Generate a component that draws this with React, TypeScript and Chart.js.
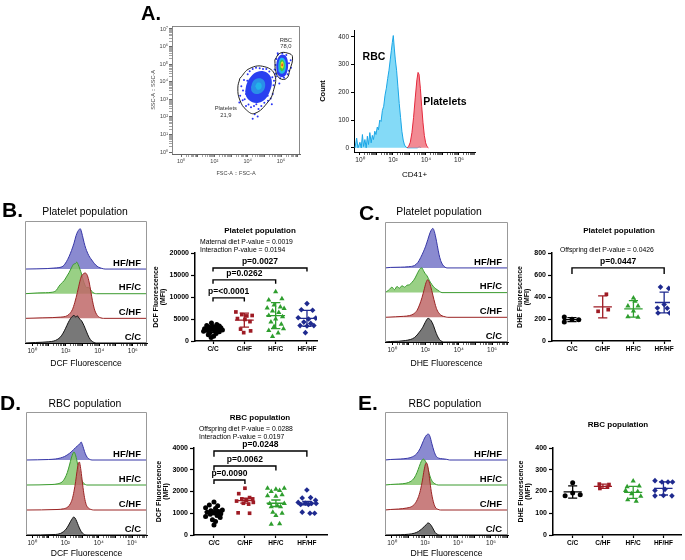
import React, { useEffect, useRef } from 'react';
import { Chart, registerables } from 'chart.js';

Chart.register(...registerables);

const FONT = "'Liberation Sans', Arial, Helvetica, sans-serif";
Chart.defaults.font.family = FONT;
Chart.defaults.color = '#000';

const SUP = ['⁰', '¹', '²', '³', '⁴', '⁵', '⁶', '⁷', '⁸', '⁹'];

// ================= Panel A, left: FSC-A vs SSC-A (log10 units) =================
const fscRange = [-0.54, 7.14];
const sscRange = [-0.11, 7.17];
const plateletGate = [[3.53, 4.19], [4.13, 4.76], [5.03, 4.85], [5.63, 4.38], [5.53, 3.43], [5.23, 2.86], [4.43, 2.2], [3.93, 2.39], [3.53, 2.96], [3.41, 3.64], [3.53, 4.19]];
const rbcGate = [[5.63, 5.24], [5.93, 5.62], [6.43, 5.62], [6.69, 5.42], [6.53, 4.67], [6.33, 4.19], [5.93, 4.19], [5.69, 4.57], [5.63, 5.24]];
const plateletOuter = [[3.85, 3.45], [3.95, 3.9], [4.2, 4.3], [4.55, 4.55], [4.95, 4.6], [5.3, 4.4], [5.45, 4.0], [5.35, 3.5], [5.05, 3.0], [4.65, 2.8], [4.25, 2.85], [3.95, 3.1], [3.85, 3.45]];
const plateletCore = [[4.2, 3.7], [4.35, 4.05], [4.65, 4.2], [4.95, 4.1], [5.05, 3.75], [4.85, 3.4], [4.5, 3.3], [4.25, 3.45], [4.2, 3.7]];
const plateletCentre = [[4.45, 3.75], [4.6, 3.95], [4.8, 3.9], [4.82, 3.65], [4.6, 3.55], [4.45, 3.75]];
const rbcOuter = [[5.75, 4.45], [5.72, 4.95], [5.82, 5.35], [6.05, 5.55], [6.3, 5.45], [6.42, 5.05], [6.38, 4.6], [6.2, 4.3], [5.95, 4.28], [5.75, 4.45]];
const rbcMid = [[5.85, 4.6], [5.85, 5.05], [5.98, 5.35], [6.2, 5.3], [6.3, 4.95], [6.22, 4.55], [6.02, 4.45], [5.85, 4.6]];
const rbcGreen = [[5.92, 4.72], [5.93, 5.1], [6.05, 5.25], [6.2, 5.1], [6.2, 4.75], [6.05, 4.6], [5.92, 4.72]];
const rbcYellow = [[5.98, 4.82], [6.0, 5.08], [6.1, 5.15], [6.16, 4.95], [6.1, 4.75], [5.98, 4.82]];
const rbcRed = [[6.02, 4.9], [6.05, 5.05], [6.1, 5.02], [6.1, 4.88], [6.02, 4.9]];
const sparseEvents = [[3.55, 3.2], [3.62, 3.75], [3.7, 2.95], [3.78, 4.1], [3.82, 3.0], [3.9, 2.62], [4.0, 4.42], [4.05, 2.7], [4.12, 4.6], [4.2, 2.55], [4.3, 4.72], [4.38, 2.62], [4.5, 4.8], [4.52, 2.72], [4.65, 2.45], [4.72, 4.76], [4.82, 2.62], [4.92, 4.72], [5.0, 2.8], [5.12, 4.72], [5.22, 2.92], [5.3, 4.58], [5.38, 3.05], [5.48, 4.25], [5.5, 3.3], [5.55, 3.8], [5.58, 4.05], [5.45, 2.72], [4.42, 2.15], [3.9, 3.3], [3.72, 3.5], [5.66, 4.45], [4.6, 2.02], [3.5, 2.82], [4.1, 3.6], [5.2, 3.2], [4.85, 4.5], [3.98, 4.05], [5.62, 4.7], [5.68, 4.95], [5.72, 5.3], [5.82, 5.55], [6.08, 5.62], [6.32, 5.52], [6.48, 5.05], [6.48, 4.62], [6.4, 4.42], [6.18, 4.22], [5.95, 4.2], [5.7, 4.3], [6.58, 5.22], [5.8, 5.62], [4.3, 1.9], [5.9, 3.9], [6.6, 4.8]];
const gateLabels = [
  { x: 2.69, y: 2.49, text: 'Platelets' },
  { x: 2.69, y: 2.1, text: '21,9' },
  { x: 6.29, y: 6.37, text: 'RBC' },
  { x: 6.29, y: 5.99, text: '78,0' },
];

// ================= Panel A, right: CD41+ histogram =================
const cd41Range = [-0.36, 6.97];
const countTicks = [0, 100, 200, 300, 400];
const rbcCD41 = [[-0.3, 0], [-0.2, 35], [-0.12, 0], [0.0, 20], [0.08, 0], [0.15, 48], [0.22, 5], [0.3, 30], [0.38, 0], [0.45, 42], [0.52, 12], [0.6, 55], [0.68, 18], [0.75, 45], [0.82, 30], [0.9, 60], [0.97, 48], [1.05, 75], [1.12, 65], [1.2, 100], [1.28, 95], [1.36, 135], [1.44, 150], [1.52, 190], [1.6, 215], [1.68, 250], [1.76, 280], [1.84, 320], [1.9, 350], [1.96, 380], [2.02, 405], [2.08, 360], [2.14, 320], [2.22, 280], [2.3, 220], [2.38, 160], [2.46, 110], [2.54, 60], [2.62, 28], [2.7, 10], [2.8, 2], [2.9, 0], [3.5, 0], [3.6, 6], [3.7, 0]];
const plateletCD41 = [[2.85, 0], [2.95, 5], [3.05, 20], [3.15, 55], [3.25, 110], [3.35, 180], [3.45, 245], [3.52, 272], [3.58, 265], [3.66, 215], [3.74, 150], [3.82, 90], [3.9, 45], [3.98, 18], [4.06, 5], [4.15, 0]];
const cd41Labels = [
  { x: 0.85, y: 327, text: 'RBC' },
  { x: 5.15, y: 164, text: 'Platelets' },
];

// ================= Group styling =================
const categories = ['C/C', 'C/HF', 'HF/C', 'HF/HF'];
const groupColors = ['#000000', '#9e1b24', '#2e9e2e', '#1f2a8f'];
const groupShapes = ['circle', 'rect', 'triangle', 'rectRot'];
const groupRadius = [2.5, 2.6, 3.0, 2.8];
const histLine = ['#111111', '#9a2424', '#3a9a2e', '#3636a6'];
const histFill = ['rgba(105,105,105,0.9)', 'rgba(192,105,105,0.85)', 'rgba(135,200,112,0.85)', 'rgba(118,118,200,0.85)'];

// ================= Offset histograms (log10 position, height in band units) =================
const platDcfCC = [[0.2, 0.02], [0.6, 0.03], [1.0, 0.05], [1.3, 0.08], [1.5, 0.14], [1.7, 0.25], [1.85, 0.4], [2.0, 0.6], [2.15, 0.82], [2.3, 1.0], [2.4, 1.08], [2.5, 1.12], [2.6, 1.06], [2.7, 1.1], [2.8, 1.0], [2.95, 0.9], [3.1, 0.7], [3.25, 0.45], [3.4, 0.22], [3.55, 0.08], [3.7, 0.02], [3.85, 0]];
const platDcfCHF = [[0.6, 0.02], [1.2, 0.03], [1.7, 0.05], [2.0, 0.08], [2.2, 0.16], [2.4, 0.35], [2.55, 0.65], [2.7, 1.05], [2.85, 1.5], [2.95, 1.72], [3.05, 1.8], [3.15, 1.84], [3.25, 1.8], [3.35, 1.62], [3.45, 1.3], [3.55, 0.9], [3.65, 0.55], [3.75, 0.3], [3.85, 0.16], [3.95, 0.07], [4.1, 0.02], [4.25, 0]];
const platDcfHFC = [[0.3, 0.03], [0.8, 0.04], [1.2, 0.06], [1.45, 0.14], [1.6, 0.3], [1.75, 0.42], [1.9, 0.52], [2.05, 0.68], [2.2, 0.85], [2.35, 1.05], [2.48, 1.2], [2.58, 1.22], [2.66, 1.28], [2.75, 1.18], [2.85, 1.0], [2.95, 0.8], [3.05, 0.55], [3.15, 0.35], [3.25, 0.25], [3.35, 0.26], [3.45, 0.2], [3.55, 0.1], [3.7, 0.02], [3.85, 0]];
const platDcfHFHF = [[0.9, 0.02], [1.3, 0.04], [1.6, 0.06], [1.85, 0.12], [2.05, 0.3], [2.2, 0.5], [2.35, 0.75], [2.5, 1.05], [2.62, 1.35], [2.72, 1.52], [2.8, 1.6], [2.87, 1.64], [2.95, 1.5], [3.05, 1.22], [3.15, 0.95], [3.25, 0.75], [3.38, 0.55], [3.5, 0.42], [3.65, 0.28], [3.8, 0.16], [3.95, 0.08], [4.15, 0.03], [4.35, 0]];

const platDheCC = [[-0.1, 0.02], [0.4, 0.03], [0.8, 0.06], [1.1, 0.1], [1.35, 0.18], [1.55, 0.32], [1.7, 0.45], [1.85, 0.6], [1.98, 0.78], [2.08, 0.9], [2.16, 0.96], [2.25, 0.93], [2.35, 0.86], [2.48, 0.68], [2.6, 0.45], [2.72, 0.25], [2.85, 0.1], [3.0, 0.02], [3.1, 0]];
const platDheCHF = [[0.2, 0.02], [0.7, 0.04], [1.05, 0.07], [1.3, 0.14], [1.5, 0.28], [1.65, 0.5], [1.8, 0.8], [1.92, 1.1], [2.04, 1.4], [2.14, 1.52], [2.22, 1.45], [2.32, 1.25], [2.45, 0.9], [2.58, 0.55], [2.7, 0.3], [2.85, 0.14], [3.0, 0.06], [3.2, 0.02], [3.35, 0]];
const platDheHFC = [[-0.2, 0.1], [0.0, 0.22], [0.15, 0.12], [0.3, 0.25], [0.45, 0.18], [0.6, 0.28], [0.75, 0.22], [0.9, 0.3], [1.05, 0.32], [1.2, 0.42], [1.35, 0.55], [1.48, 0.72], [1.6, 0.88], [1.7, 0.98], [1.8, 1.0], [1.88, 0.9], [1.98, 0.78], [2.1, 0.68], [2.25, 0.48], [2.4, 0.32], [2.55, 0.2], [2.7, 0.12], [2.85, 0.05], [3.0, 0]];
const platDheHFHF = [[-0.1, 0.02], [0.5, 0.03], [1.0, 0.05], [1.35, 0.1], [1.55, 0.22], [1.72, 0.42], [1.88, 0.65], [2.02, 0.88], [2.15, 1.15], [2.28, 1.42], [2.38, 1.56], [2.45, 1.6], [2.52, 1.52], [2.62, 1.25], [2.72, 0.9], [2.82, 0.55], [2.92, 0.3], [3.05, 0.12], [3.18, 0.03], [3.3, 0]];

const rbcDcfCC = [[1.4, 0.02], [1.7, 0.06], [1.9, 0.14], [2.05, 0.24], [2.2, 0.4], [2.32, 0.55], [2.42, 0.66], [2.5, 0.72], [2.58, 0.68], [2.68, 0.55], [2.78, 0.38], [2.9, 0.2], [3.02, 0.08], [3.15, 0.02], [3.3, 0]];
const rbcDcfCHF = [[1.5, 0.02], [1.9, 0.05], [2.15, 0.12], [2.3, 0.25], [2.42, 0.45], [2.52, 0.75], [2.62, 1.15], [2.7, 1.55], [2.78, 1.85], [2.84, 1.92], [2.9, 1.75], [2.98, 1.35], [3.06, 0.9], [3.15, 0.5], [3.25, 0.22], [3.38, 0.08], [3.55, 0.02], [3.7, 0]];
const rbcDcfHFC = [[1.2, 0.02], [1.55, 0.05], [1.8, 0.12], [1.98, 0.28], [2.12, 0.5], [2.25, 0.8], [2.36, 1.08], [2.45, 1.25], [2.52, 1.32], [2.6, 1.22], [2.7, 0.95], [2.8, 0.62], [2.9, 0.35], [3.0, 0.16], [3.12, 0.06], [3.3, 0]];
const rbcDcfHFHF = [[1.0, 0.02], [1.4, 0.04], [1.7, 0.08], [1.95, 0.14], [2.15, 0.22], [2.35, 0.32], [2.5, 0.42], [2.62, 0.5], [2.72, 0.56], [2.8, 0.6], [2.88, 0.66], [2.95, 0.72], [3.02, 0.62], [3.1, 0.45], [3.2, 0.25], [3.32, 0.1], [3.45, 0.03], [3.6, 0]];

const rbcDheCC = [[0.5, 0.01], [1.0, 0.03], [1.35, 0.07], [1.6, 0.14], [1.8, 0.24], [1.95, 0.33], [2.08, 0.42], [2.18, 0.48], [2.28, 0.46], [2.38, 0.38], [2.5, 0.24], [2.62, 0.1], [2.75, 0.03], [2.9, 0]];
const rbcDheCHF = [[-0.1, 0.02], [0.4, 0.04], [0.9, 0.08], [1.2, 0.14], [1.4, 0.26], [1.58, 0.48], [1.72, 0.78], [1.85, 1.2], [1.95, 1.6], [2.04, 1.85], [2.1, 1.88], [2.18, 1.72], [2.28, 1.25], [2.38, 0.75], [2.5, 0.35], [2.62, 0.12], [2.78, 0.03], [2.95, 0]];
const rbcDheHFC = [[-0.1, 0.02], [0.4, 0.04], [0.85, 0.07], [1.15, 0.15], [1.35, 0.28], [1.52, 0.5], [1.66, 0.75], [1.78, 0.95], [1.9, 1.04], [1.98, 1.0], [2.08, 0.88], [2.2, 0.6], [2.32, 0.32], [2.45, 0.14], [2.6, 0.05], [2.8, 0]];
const rbcDheHFHF = [[-0.1, 0.02], [0.5, 0.04], [0.95, 0.07], [1.25, 0.13], [1.5, 0.25], [1.7, 0.45], [1.85, 0.68], [1.98, 0.88], [2.1, 1.0], [2.2, 1.04], [2.3, 0.95], [2.42, 0.65], [2.55, 0.35], [2.68, 0.15], [2.85, 0.07], [3.05, 0.05], [3.3, 0.03], [3.5, 0]];

// ================= Dot plots: [jitter, value] =================
const dcfPlatCC = [[-0.05, 4100], [0.12, 3750], [-0.2, 3500], [0.2, 3400], [0.0, 3300], [-0.12, 3100], [0.25, 3000], [0.08, 2900], [-0.27, 2800], [-0.05, 2700], [0.15, 2600], [0.3, 2500], [-0.18, 2400], [0.05, 2300], [-0.3, 2200], [0.2, 2100], [-0.1, 1900], [0.1, 1700], [-0.15, 1400], [0.02, 1100], [-0.06, 800]];
const dcfPlatCHF = [[-0.27, 6600], [-0.08, 6000], [0.08, 5700], [0.25, 5800], [-0.22, 5100], [0.02, 4900], [0.18, 4400], [-0.12, 2700], [0.2, 2300], [-0.02, 1900]];
const dcfPlatHFC = [[0.0, 11200], [-0.22, 9300], [0.2, 9600], [-0.05, 8200], [0.15, 7700], [-0.27, 7500], [0.27, 7400], [-0.1, 6800], [0.1, 6500], [-0.22, 5800], [0.22, 5500], [0.0, 5000], [-0.15, 4300], [0.18, 3800], [-0.05, 3300], [0.25, 2800], [-0.22, 2400], [0.08, 1800], [-0.1, 1000]];
const dcfPlatHFHF = [[0.0, 8500], [-0.18, 7100], [0.18, 7000], [-0.28, 5300], [0.05, 5000], [0.28, 5200], [-0.1, 4300], [0.12, 4000], [-0.22, 3500], [0.0, 3400], [0.22, 3500], [-0.05, 1900]];
const dcfPlatMean = [2650, 4750, 5750, 5150];
const dcfPlatSD = [750, 1600, 2950, 1800];

const dhePlatCC = [[-0.25, 218], [-0.25, 172], [0.0, 198], [0.22, 194]];
const dhePlatCHF = [[0.12, 425], [-0.15, 270], [0.18, 285]];
const dhePlatHFC = [[0.0, 390], [0.05, 362], [-0.18, 318], [0.15, 318], [0.0, 272], [-0.18, 220], [0.15, 215]];
const dhePlatHFHF = [[-0.12, 490], [0.15, 478], [0.0, 332], [-0.22, 300], [0.1, 298], [-0.2, 255], [0.18, 255]];
const dhePlatMean = [195, 310, 292, 350];
const dhePlatSD = [18, 100, 75, 95];

const dcfRbcCC = [[0.0, 1520], [-0.15, 1380], [0.12, 1350], [-0.27, 1250], [0.05, 1220], [0.27, 1150], [-0.1, 1120], [0.15, 1080], [-0.22, 1050], [0.0, 1010], [0.22, 980], [-0.12, 950], [0.1, 900], [-0.27, 850], [0.2, 800], [-0.05, 700], [0.05, 620], [0.0, 460]];
const dcfRbcCHF = [[0.0, 2150], [-0.2, 1900], [0.15, 1720], [-0.1, 1660], [0.25, 1660], [0.05, 1600], [-0.27, 1560], [0.27, 1500], [-0.05, 1460], [0.12, 1420], [-0.22, 1020], [0.15, 1000]];
const dcfRbcHFC = [[-0.27, 2150], [0.0, 2100], [0.27, 2150], [-0.15, 2000], [0.12, 2050], [-0.27, 1800], [0.2, 1850], [0.0, 1780], [-0.2, 1450], [0.27, 1450], [0.05, 1350], [-0.15, 1300], [0.15, 1300], [-0.1, 1050], [0.2, 1000], [0.0, 900], [-0.15, 500], [0.12, 520]];
const dcfRbcHFHF = [[0.0, 2070], [-0.15, 1700], [0.12, 1720], [0.28, 1600], [-0.28, 1500], [-0.05, 1460], [0.15, 1450], [0.3, 1450], [-0.2, 1400], [0.05, 1400], [-0.15, 1050], [0.1, 1000], [0.25, 1000]];
const dcfRbcMean = [1070, 1580, 1460, 1470];
const dcfRbcSEM = [70, 110, 150, 80];

const dheRbcCC = [[0.0, 240], [-0.25, 180], [0.0, 193], [0.25, 185]];
const dheRbcCHF = [[-0.12, 234], [0.2, 232], [-0.1, 214], [0.15, 220]];
const dheRbcHFC = [[0.0, 248], [-0.2, 222], [0.2, 225], [-0.25, 205], [0.15, 200], [-0.05, 190], [0.25, 178], [-0.18, 162], [0.1, 155]];
const dheRbcHFHF = [[-0.28, 250], [-0.05, 244], [0.15, 244], [0.3, 244], [-0.28, 205], [0.05, 210], [-0.28, 180], [0.0, 182], [0.28, 180]];
const dheRbcMean = [198, 224, 196, 214];
const dheRbcSD = [28, 10, 28, 30];

const platDcfBrackets = [
  { a: 0, b: 1, top: 9800, end: 9000, label: 'p=<0.0001' },
  { a: 0, b: 2, top: 13900, end: 13000, label: 'p=0.0262' },
  { a: 0, b: 3, top: 16600, end: 15800, label: 'p=0.0027' },
];
const platDheBrackets = [{ a: 0, b: 3, top: 665, end: 610, label: 'p=0.0447' }];
const rbcDcfBrackets = [
  { a: 0, b: 1, top: 2530, end: 2350, label: 'p=0.0090' },
  { a: 0, b: 2, top: 3170, end: 2960, label: 'p=0.0062' },
  { a: 0, b: 3, top: 3860, end: 3600, label: 'p=0.0248' },
];

// ================= helpers =================
type Lbl = { x: number; y: number; text: string; font: string; color?: string; align?: CanvasTextAlign; dx?: number; dy?: number };

const textPlugin = (items: Lbl[]) => ({
  id: 'dataText',
  afterDatasetsDraw(chart: any) {
    const { ctx } = chart;
    const xs = chart.scales.x, ys = chart.scales.y;
    ctx.save();
    items.forEach((it) => {
      ctx.font = it.font;
      ctx.fillStyle = it.color || '#000';
      ctx.textAlign = it.align || 'center';
      ctx.textBaseline = 'middle';
      ctx.fillText(it.text, xs.getPixelForValue(it.x) + (it.dx || 0), ys.getPixelForValue(it.y) + (it.dy || 0));
    });
    ctx.restore();
  },
});

const framePlugin = (color: string) => ({
  id: 'frame',
  afterDatasetsDraw(chart: any) {
    const { ctx, chartArea: a } = chart;
    ctx.save();
    ctx.strokeStyle = color;
    ctx.lineWidth = 1;
    ctx.beginPath();
    ctx.moveTo(a.left + 0.5, a.bottom);
    ctx.lineTo(a.left + 0.5, a.top + 0.5);
    ctx.lineTo(a.right - 0.5, a.top + 0.5);
    ctx.lineTo(a.right - 0.5, a.bottom);
    ctx.stroke();
    ctx.restore();
  },
});

function logAxis(min: number, max: number, labelled: number[], o: any = {}) {
  return {
    type: 'linear',
    min,
    max,
    afterBuildTicks: (s: any) => {
      const t: any[] = [];
      for (let d = 0; d <= Math.ceil(max); d++) {
        for (let k = 1; k <= 9; k++) {
          const v = d + Math.log10(k);
          if (v >= min && v <= max) t.push({ value: v });
        }
      }
      s.ticks = t;
    },
    ticks: {
      autoSkip: false,
      maxRotation: 0,
      padding: 1,
      font: { size: o.tickSize ?? 6.5 },
      color: o.tickColor ?? '#222',
      callback: (v: number) => (labelled.includes(v) ? '10' + SUP[v] : ''),
    },
    grid: {
      drawOnChartArea: false,
      drawTicks: true,
      tickLength: 3,
      tickColor: o.axisColor ?? '#000',
      tickWidth: (c: any) => (c.tick && Number.isInteger(c.tick.value) ? 1 : 0.6),
    },
    border: { display: true, color: o.axisColor ?? '#000', width: 1 },
  };
}

const poly = (pts: number[][]) => pts.map(([x, y]) => ({ x, y }));

function baseOptions(m: number[], yShown: boolean) {
  return {
    responsive: false,
    animation: false,
    events: [],
    layout: { padding: { left: yShown ? 0 : m[0], top: m[1], right: m[2], bottom: 0 } },
    plugins: { legend: { display: false }, tooltip: { enabled: false }, title: { display: false } },
  };
}

// ---------- A-left ----------
function flowChart(m: number[]) {
  const area = (pts: number[][], color: string) => ({
    data: poly(pts), borderWidth: 0, borderColor: 'transparent', backgroundColor: color, fill: 'shape', tension: 0.4, pointRadius: 0,
  });
  const gate = (pts: number[][]) => ({ data: poly(pts), borderColor: '#222', borderWidth: 1, fill: false, tension: 0.45, pointRadius: 0 });
  return {
    type: 'line',
    data: {
      datasets: [
        gate(plateletGate),
        gate(rbcGate),
        area(rbcRed, '#e83a22'),
        area(rbcYellow, '#f2e21e'),
        area(rbcGreen, '#3cc84a'),
        area(rbcMid, '#22b8e6'),
        area(rbcOuter, '#2a3cf2'),
        area(plateletCentre, '#22b4ea'),
        area(plateletCore, '#2a8ee8'),
        area(plateletOuter, '#2a40f0'),
        { data: poly(sparseEvents), showLine: false, pointRadius: 1, pointBackgroundColor: '#2a35f5', pointBorderWidth: 0 },
      ],
    },
    options: {
      ...baseOptions(m, true),
      scales: {
        x: {
          ...logAxis(fscRange[0], fscRange[1], [0, 2, 4, 6], { tickSize: 5.5, tickColor: '#444', axisColor: '#666' }),
          afterFit: (s: any) => { s.height = m[3]; },
          title: { display: true, text: 'FSC-A :: FSC-A', font: { size: 5.5 }, color: '#444', padding: { top: 0, bottom: 1 } },
        },
        y: {
          ...logAxis(sscRange[0], sscRange[1], [0, 1, 2, 3, 4, 5, 6, 7], { tickSize: 5.5, tickColor: '#444', axisColor: '#666' }),
          afterFit: (s: any) => { s.width = m[0]; },
          title: { display: true, text: 'SSC-A :: SSC-A', font: { size: 5.5 }, color: '#444', padding: 0 },
        },
      },
    },
    plugins: [framePlugin('#888'), textPlugin(gateLabels.map((g) => ({ ...g, font: `5.8px ${FONT}`, color: '#333' })))],
  };
}

// ---------- A-right ----------
function cd41Chart(m: number[]) {
  const hist = (pts: number[][], line: string, fill: string) => ({
    data: poly(pts), borderColor: line, backgroundColor: fill, borderWidth: 1, fill: 'origin', pointRadius: 0,
  });
  return {
    type: 'line',
    data: {
      datasets: [
        hist(plateletCD41, '#e4283c', 'rgba(240,118,128,0.85)'),
        hist(rbcCD41, '#1aa6e6', 'rgba(110,212,246,0.85)'),
      ],
    },
    options: {
      ...baseOptions(m, true),
      scales: {
        x: {
          ...logAxis(cd41Range[0], cd41Range[1], [0, 2, 4, 6], { tickSize: 6.5 }),
          afterFit: (s: any) => { s.height = m[3]; },
          title: { display: true, text: 'CD41+', font: { size: 8 }, padding: { top: 0, bottom: 1 } },
        },
        y: {
          type: 'linear', min: -15, max: 425,
          afterBuildTicks: (s: any) => { s.ticks = countTicks.map((v) => ({ value: v })); },
          ticks: { font: { size: 6.5 }, padding: 2, color: '#222', callback: (v: number) => String(v) },
          grid: { drawOnChartArea: false, tickLength: 3, tickColor: '#000' },
          border: { color: '#000', width: 1 },
          title: { display: true, text: 'Count', font: { size: 7.5, weight: 'bold' }, padding: 0 },
          afterFit: (s: any) => { s.width = m[0]; },
        },
      },
    },
    plugins: [textPlugin(cd41Labels.map((l) => ({ ...l, font: `bold 10.5px ${FONT}` })))],
  };
}

// ---------- offset histograms ----------
function histChart(range: number[], ymax: number, series: number[][][], xTitle: string) {
  return (m: number[]) => {
    const datasets = series.map((vals, i) => ({
      data: [{ x: range[0], y: i }, ...vals.map(([lx, h]) => ({ x: lx, y: i + h })), { x: range[1], y: i }],
      borderColor: histLine[i], backgroundColor: histFill[i], borderWidth: 1, pointRadius: 0,
      fill: { value: i }, cubicInterpolationMode: 'monotone',
    }));
    return {
      type: 'line',
      data: { datasets },
      options: {
        ...baseOptions(m, false),
        scales: {
          x: {
            ...logAxis(range[0], range[1], [0, 2, 4, 6], { tickSize: 6.5 }),
            afterFit: (s: any) => { s.height = m[3]; },
            title: { display: true, text: xTitle, font: { size: 8.6 }, padding: { top: 0, bottom: 0 } },
          },
          y: { type: 'linear', display: false, min: 0, max: ymax },
        },
      },
      plugins: [
        framePlugin('#999'),
        textPlugin(categories.map((c, i) => ({ x: range[1], y: i, text: c, dx: -6, dy: -6, align: 'right' as CanvasTextAlign, font: `bold 9.5px ${FONT}` }))),
      ],
    };
  };
}

// ---------- dot plots ----------
function dotChart(p: { groups: number[][][]; mean: number[]; err: number[]; xr: number[]; ymax: number; ystep: number; brackets: any[]; yTitle: string[] }) {
  return (m: number[]) => {
    const datasets: any[] = [];
    const br: any[] = [];
    p.brackets.forEach((b) => br.push({ x: b.a, y: b.end }, { x: b.a, y: b.top }, { x: b.b, y: b.top }, { x: b.b, y: b.end }, { x: b.b, y: null }));
    if (br.length) datasets.push({ data: br, borderColor: '#000', borderWidth: 1.4, pointRadius: 0, spanGaps: false, fill: false });
    p.groups.forEach((_, i) => {
      const mu = p.mean[i], lo = mu - p.err[i], hi = mu + p.err[i];
      datasets.push({
        data: [
          { x: i - 0.3, y: mu }, { x: i + 0.3, y: mu }, { x: i, y: null },
          { x: i, y: lo }, { x: i, y: hi }, { x: i, y: null },
          { x: i - 0.15, y: hi }, { x: i + 0.15, y: hi }, { x: i, y: null },
          { x: i - 0.15, y: lo }, { x: i + 0.15, y: lo },
        ],
        borderColor: groupColors[i], borderWidth: 1.3, pointRadius: 0, spanGaps: false, fill: false,
      });
    });
    p.groups.forEach((pts, i) => datasets.push({
      data: pts.map(([dx, y]) => ({ x: i + dx, y })), showLine: false,
      pointStyle: groupShapes[i], pointRadius: groupRadius[i],
      pointBackgroundColor: groupColors[i], pointBorderColor: groupColors[i], pointBorderWidth: 0,
    }));
    return {
      type: 'line',
      data: { datasets },
      options: {
        ...baseOptions(m, true),
        scales: {
          x: {
            type: 'linear', min: p.xr[0], max: p.xr[1],
            afterBuildTicks: (s: any) => { s.ticks = categories.map((_, i) => ({ value: i })); },
            ticks: { autoSkip: false, maxRotation: 0, padding: 1, font: { size: 6.5, weight: 'bold' }, callback: (v: number) => categories[v] },
            grid: { drawOnChartArea: false, tickLength: 3, tickColor: '#000', tickWidth: 1.2 },
            border: { color: '#000', width: 1.5 },
            afterFit: (s: any) => { s.height = m[3]; },
          },
          y: {
            type: 'linear', min: 0, max: p.ymax,
            ticks: { stepSize: p.ystep, font: { size: 7, weight: 'bold' }, padding: 2, callback: (v: number) => String(v) },
            grid: { drawOnChartArea: false, tickLength: 4, tickColor: '#000', tickWidth: 1.2 },
            border: { color: '#000', width: 1.5 },
            title: { display: true, text: p.yTitle, font: { size: 7, weight: 'bold', lineHeight: 1.1 }, padding: 0 },
            afterFit: (s: any) => { s.width = m[0]; },
          },
        },
      },
      plugins: [textPlugin(p.brackets.map((b) => ({ x: (b.a + b.b) / 2, y: b.top, text: b.label, dy: -6, font: `bold 8.5px ${FONT}` })))],
    };
  };
}

// ================= components =================
function ChartBox({ area, m, build }: { area: number[]; m: number[]; build: (m: number[]) => any }) {
  const ref = useRef<HTMLCanvasElement | null>(null);
  const [l, t, r, b] = area;
  const w = r - l + m[0] + m[2];
  const h = b - t + m[1] + m[3];
  useEffect(() => {
    const chart = new Chart(ref.current as HTMLCanvasElement, build(m));
    return () => chart.destroy();
  }, []);
  return <canvas ref={ref} width={w} height={h} style={{ position: 'absolute', left: l - m[0], top: t - m[1], width: w, height: h }} />;
}

type T = { t: string; x: number; y: number; s: number; b?: boolean; align?: 'left' | 'center' };
const texts: T[] = [
  { t: 'A.', x: 141, y: 13, s: 20, b: true },
  { t: 'B.', x: 2, y: 209, s: 21, b: true },
  { t: 'C.', x: 359, y: 212, s: 21, b: true },
  { t: 'D.', x: 0, y: 402, s: 21, b: true },
  { t: 'E.', x: 358, y: 402, s: 21, b: true },
  { t: 'Platelet population', x: 85, y: 212, s: 10.4, align: 'center' },
  { t: 'Platelet population', x: 439, y: 212, s: 10.4, align: 'center' },
  { t: 'RBC population', x: 85, y: 404, s: 10.4, align: 'center' },
  { t: 'RBC population', x: 445, y: 404, s: 10.4, align: 'center' },
  { t: 'Platelet population', x: 260, y: 231, s: 8, b: true, align: 'center' },
  { t: 'Maternal diet P-value = 0.0019', x: 200, y: 242, s: 6.8 },
  { t: 'Interaction P-value = 0.0194', x: 200, y: 250, s: 6.8 },
  { t: 'Platelet population', x: 619, y: 231, s: 8, b: true, align: 'center' },
  { t: 'Offspring diet P-value = 0.0426', x: 560, y: 250, s: 6.8 },
  { t: 'RBC population', x: 260, y: 418, s: 8, b: true, align: 'center' },
  { t: 'Offspring diet P-value = 0.0288', x: 199, y: 429, s: 6.8 },
  { t: 'Interaction P-value = 0.0197', x: 199, y: 437, s: 6.8 },
  { t: 'RBC population', x: 618, y: 425, s: 8, b: true, align: 'center' },
];

export default function App() {
  useEffect(() => {
    document.body.style.margin = '0';
  }, []);
  return (
    <div style={{ position: 'absolute', left: 0, top: 0, width: 685, height: 560, overflow: 'hidden', background: '#fff', fontFamily: FONT }}>
      <ChartBox area={[172, 26, 300, 154]} m={[22, 8, 10, 24]} build={flowChart} />
      <ChartBox area={[354, 30, 475, 152]} m={[36, 8, 12, 29]} build={cd41Chart} />

      <ChartBox area={[25, 221, 147, 343]} m={[25, 6, 15, 26]} build={histChart([-0.42, 6.85], 4.95, [platDcfCC, platDcfCHF, platDcfHFC, platDcfHFHF], 'DCF Fluorescence')} />
      <ChartBox area={[195, 253, 317, 341]} m={[43, 8, 15, 14]} build={dotChart({ groups: [dcfPlatCC, dcfPlatCHF, dcfPlatHFC, dcfPlatHFHF], mean: dcfPlatMean, err: dcfPlatSD, xr: [-0.575, 3.32], ymax: 20000, ystep: 5000, brackets: platDcfBrackets, yTitle: ['DCF Fluorescence', '(MFI)'] })} />

      <ChartBox area={[385, 222, 508, 342]} m={[25, 6, 15, 27]} build={histChart([-0.42, 6.96], 4.86, [platDheCC, platDheCHF, platDheHFC, platDheHFHF], 'DHE Fluorescence')} />
      <ChartBox area={[552, 253, 670, 341]} m={[36, 8, 14, 14]} build={dotChart({ groups: [dhePlatCC, dhePlatCHF, dhePlatHFC, dhePlatHFHF], mean: dhePlatMean, err: dhePlatSD, xr: [-0.65, 3.19], ymax: 800, ystep: 200, brackets: platDheBrackets, yTitle: ['DHE Fluorescence', '(MFI)'] })} />

      <ChartBox area={[26, 412, 147, 535]} m={[26, 6, 15, 24]} build={histChart([-0.36, 6.9], 4.92, [rbcDcfCC, rbcDcfCHF, rbcDcfHFC, rbcDcfHFHF], 'DCF Fluorescence')} />
      <ChartBox area={[194, 448, 327, 535]} m={[39, 8, 14, 14]} build={dotChart({ groups: [dcfRbcCC, dcfRbcCHF, dcfRbcHFC, dcfRbcHFHF], mean: dcfRbcMean, err: dcfRbcSEM, xr: [-0.645, 3.65], ymax: 4000, ystep: 1000, brackets: rbcDcfBrackets, yTitle: ['DCF Fluorescence', '(MFI)'] })} />

      <ChartBox area={[385, 412, 508, 535]} m={[25, 6, 15, 24]} build={histChart([-0.42, 7.03], 4.92, [rbcDheCC, rbcDheCHF, rbcDheHFC, rbcDheHFHF], 'DHE Fluorescence')} />
      <ChartBox area={[553, 448, 683, 535]} m={[36, 8, 2, 14]} build={dotChart({ groups: [dheRbcCC, dheRbcCHF, dheRbcHFC, dheRbcHFHF], mean: dheRbcMean, err: dheRbcSD, xr: [-0.65, 3.58], ymax: 400, ystep: 100, brackets: [], yTitle: ['DHE Fluorescence', '(MFI)'] })} />

      {texts.map((tx, i) => (
        <div
          key={i}
          style={{
            position: 'absolute',
            left: tx.x,
            top: tx.y - tx.s * 0.49,
            fontSize: tx.s,
            lineHeight: `${tx.s}px`,
            fontWeight: tx.b ? 'bold' : 'normal',
            whiteSpace: 'nowrap',
            color: '#000',
            transform: tx.align === 'center' ? 'translateX(-50%)' : undefined,
          }}
        >
          {tx.t}
        </div>
      ))}
    </div>
  );
}
